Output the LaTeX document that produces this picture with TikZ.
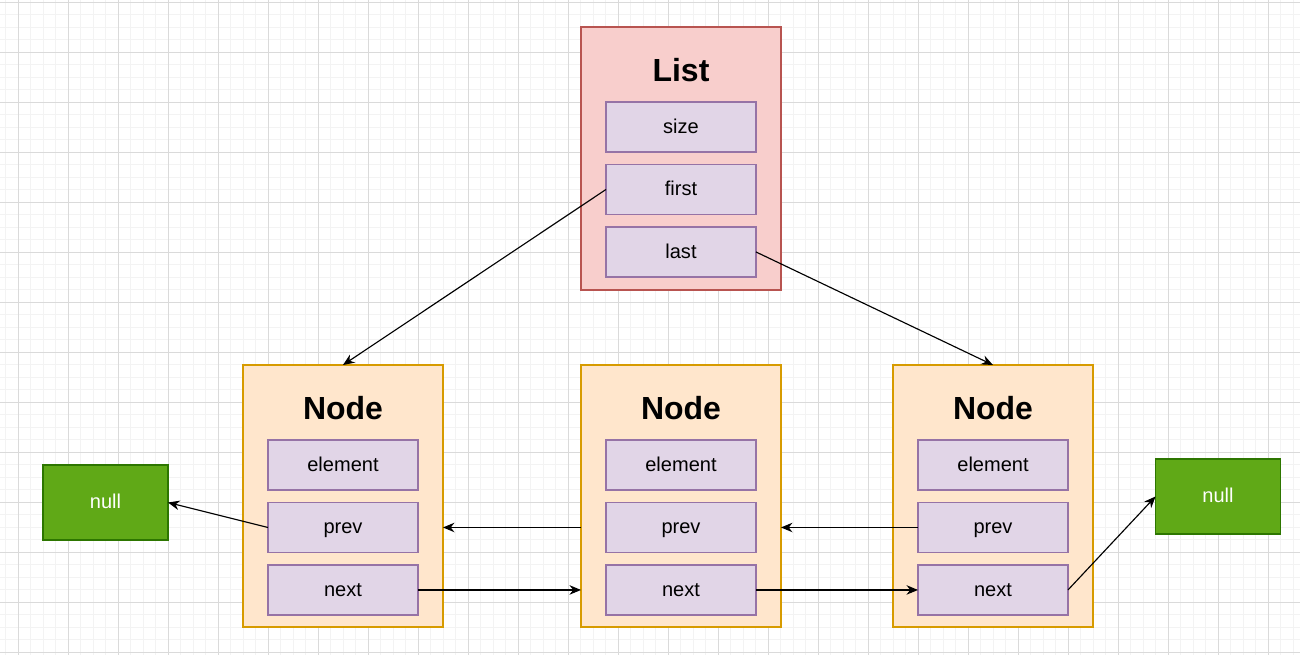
\documentclass[tikz,border=0pt]{standalone}
\usepackage{fontspec}
\setmainfont{Liberation Sans}
\usepackage{tikz}
\usetikzlibrary{arrows.meta, positioning, calc}
\definecolor{listred}{HTML}{F8CECC}
\definecolor{listredline}{HTML}{B85450}
\definecolor{nodeorange}{HTML}{FFE6CC}
\definecolor{nodeorangeline}{HTML}{D79B00}
\definecolor{fieldpurple}{HTML}{E1D5E7}
\definecolor{fieldpurpleline}{HTML}{9673A6}
\definecolor{nullgreen}{HTML}{60A917}
\definecolor{nullgreenline}{HTML}{2D7600}
\definecolor{gridminor}{HTML}{F3F3F3}
\definecolor{gridmajor}{HTML}{DADADA}
\tikzset{
    box/.style={rectangle, line width=0.7pt, inner sep=0pt, outer sep=0pt, align=center},
    listbox/.style={box, draw=listredline, fill=listred, minimum width=4cm, minimum height=5.26cm, anchor=north west},
    nodebox/.style={box, draw=nodeorangeline, fill=nodeorange, minimum width=4cm, minimum height=5.24cm, anchor=north west},
    fieldbox/.style={box, draw=fieldpurpleline, fill=fieldpurple, minimum width=3cm, minimum height=1cm, text height=0.73em, text depth=0pt, font=\fontsize{11.4}{13}\selectfont},
    nullbox/.style={box, draw=nullgreenline, fill=nullgreen, text=white, minimum width=2.5cm, minimum height=1.5cm, text height=0.73em, text depth=0pt, font=\fontsize{11.4}{13}\selectfont},
    titletext/.style={font=\fontsize{18.2}{22}\selectfont\bfseries, inner sep=0pt},
    arrow/.style={-{Stealth[length=2.3mm, width=1.9mm]}, line width=0.65pt, draw=black}
}

\begin{document}
\begin{tikzpicture}[x=0.02cm, y=-0.02cm, node distance=0.25cm]
        % background grid
        \fill[white] (0,0) rectangle (1300,655);
        \useasboundingbox (0,0) rectangle (1300,655);
        \foreach \gx in {5.5,18,...,1300} \draw[gridminor, line width=0.5pt] (\gx,0) -- (\gx,655);
        \foreach \gy in {2,14.5,...,655} \draw[gridminor, line width=0.5pt] (0,\gy) -- (1300,\gy);
        \foreach \gx in {18,68,...,1300} \draw[gridmajor, line width=0.5pt] (\gx,0) -- (\gx,655);
        \foreach \gy in {2,52,...,655} \draw[gridmajor, line width=0.5pt] (0,\gy) -- (1300,\gy);

        % list
        \node[listbox] (lst) at (581,27) {};
        \node[titletext] (lsttitle) at ([yshift=-0.86cm]lst.north) {List};
        \node[fieldbox, below=1.5cm of lst.north] (lstsize) {size};
        \node[fieldbox, below=of lstsize] (lstfirst) {first};
        \node[fieldbox, below=of lstfirst] (lstlast) {last};

        % nodes
        \node[nodebox] (n1) at (243,365) {};
        \node[nodebox] (n2) at (581,365) {};
        \node[nodebox] (n3) at (893,365) {};
        \foreach \n in {n1,n2,n3} {
            \node[titletext] (\n title) at ([yshift=-0.86cm]\n.north) {Node};
            \node[fieldbox, below=1.5cm of \n.north] (\n elem) {element};
            \node[fieldbox, below=of \n elem] (\n prev) {prev};
            \node[fieldbox, below=of \n prev] (\n next) {next};
        }

        % null
        \node[nullbox] (nullleft) at (105.5,502.5) {null};
        \node[nullbox] (nullright) at (1218,496.5) {null};

        \draw[arrow] (lstfirst.west) -- (n1.north);
        \draw[arrow] (lstlast.east) -- (n3.north);
        \draw[arrow] (n1prev.west) -- (nullleft.east);
        \draw[arrow] (n2.west |- n2prev) -- (n1.east |- n1prev);
        \draw[arrow] (n3prev.west) -- (n2.east |- n3prev);
        \draw[arrow] (n1next.east) -- (n2.west |- n1next);
        \draw[arrow] (n2next.east) -- (n3next.west);
        \draw[arrow] (n3next.east) -- (nullright.west);
    \end{tikzpicture}
\end{document}
